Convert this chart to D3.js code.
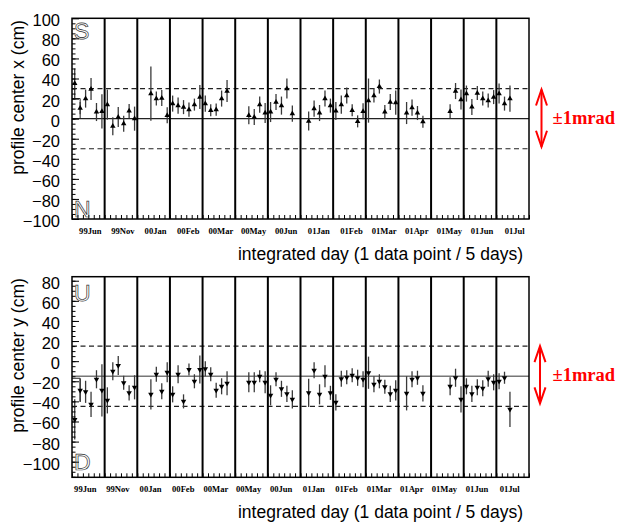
<!DOCTYPE html>
<html>
<head>
<meta charset="utf-8">
<script src="https://cdn.jsdelivr.net/npm/d3@7"></script>
<style>
	body { margin: 0; background: #fff; }
	svg { display: block; }
</style>
</head>
<body>
<svg id="chart" width="619" height="525"></svg>
<script>

// one block per month, 6 bins of 5 days each (null = no data)
const months = ["99Jun", "99Nov", "00Jan", "00Feb", "00Mar", "00May", "00Jun",
	"01Jan", "01Feb", "01Mar", "01Apr", "01May", "01Jun", "01Jul"];

const centerX = [
	[35, 10.5, 20, 29.5, 6.6, 7.3],
	[14, -7.6, 1.6, -5, 7.6, 0],
	[null, null, 25, 20, 20.5, 3.3],
	[15, 13, 11.5, 9, 14, 21.5],
	[15, 8.3, 9, 20, 27.5, null],
	[null, null, 3.3, 1.6, 14, 5.6],
	[6.6, 16.5, 13, 30, 5, null],
	[null, -2.4, 10, 5.6, 20, 13],
	[7.6, 14, 23, 8.3, -2.7, 7.3],
	[18, 23, 32, 6.6, 16.5, 16],
	[null, 5.6, 11, 5.6, -3, null],
	[null, null, null, 7.3, 27.5, 19],
	[25, 11.6, 25.5, 20, 18, 21.5],
	[25, 15, 20, null, null, null]
];
const centerXErr = [
	[15, 6, 9, 11, 9, 17],
	[15, 9, 10, 8, 7, 12],
	[null, null, 27, 7, 8, 8],
	[8, 8, 7, 7, 6, 12],
	[8, 6, 6, 8, 11, null],
	[null, null, 9, 8, 8, 10],
	[10, 8, 9, 10, 8, null],
	[null, 9.5, 8, 8, 8, 7],
	[9, 9, 8, 6, 6, 8],
	[22, 7, 7, 7, 8, 12],
	[null, 11, 8, 7, 6, null],
	[null, null, null, 7, 8, 10],
	[8, 8, 7, 7, 7, 7],
	[10, 7, 13, null, null, null]
];

const centerY = [
	[-58, -29, -30.5, -43, -18, -29],
	[-39, -10, -4.3, -21.5, -31.5, -26],
	[null, null, -33, -13, -30, -11],
	[-33, -13, -40, -8.3, -20, -8.3],
	[-7.6, -13, -29, -25, -22, null],
	[null, null, -21, -21, -15, -21],
	[-34, -18, -27.5, -32.5, -38, null],
	[null, -31.5, -9, -33, -15, -31.5],
	[-41, -17.5, -16, -14, -16.5, -18],
	[-11.5, -23, -20, -25.5, -32.5, -29],
	[null, -32, -18, -16.5, -32, null],
	[null, null, null, -25, -16.5, -38],
	[-25, -32.5, -26, -27, -17.5, -21],
	[-20, -16.5, -48, null, null, null]
];
const centerYErr = [
	[20, 11.5, 11, 12.5, 9, 26],
	[13, 9, 9.5, 7, 7.5, 12],
	[null, null, 15, 7.5, 8, 10],
	[8, 9, 7, 6, 7, 14],
	[7.5, 7, 7.5, 8, 12, null],
	[null, null, 10, 10, 6, 11],
	[10, 7, 8, 8, 9, null],
	[null, 14, 8, 10, 11, 7],
	[8, 8, 7, 7, 8, 8],
	[16, 8, 7, 7, 8, 10],
	[null, 17, 8, 7, 8, null],
	[null, null, null, 9, 9, 13],
	[8, 8, 8, 8, 8, 8],
	[8, 6, 17.5, null, null, null]
];

const ticksX = [-100, -80, -60, -40, -20, 0, 20, 40, 60, 80, 100];
const ticksY = [-100, -80, -60, -40, -20, 0, 20, 40, 60, 80];

// nominal line, +-1 mrad limits, arrow ends, first-bin box
const nominalX = [0], limitsX = [30, -30], arrowX = [29, -28], boxX = [0, 20];
const nominalY = [-15], limitsY = [15, -45], arrowY = [15, -42], boxY = [-40, -17];

const slotsPerMonth = 6;
const plotLeft = 72, plotRight = 529;

const svg = d3.select('#chart');
svg.append('rect').attr('width', 619).attr('height', 525).attr('fill', '#fff');

const x = d3.scaleLinear()
	.domain([0, months.length * slotsPerMonth])
	.range([plotLeft, plotRight]);

function drawPanel(p) {
	const y = d3.scaleLinear().domain(p.domain).range([p.bottom, p.top]);
	const g = svg.append('g');

	// reference lines
	g.selectAll('line.nominal').data(p.nominal).join('line')
		.attr('class', 'nominal')
		.attr('x1', plotLeft).attr('x2', plotRight)
		.attr('y1', d => y(d)).attr('y2', d => y(d))
		.attr('stroke', p.nominalColor).attr('stroke-width', 1.3);
	g.selectAll('line.limit').data(p.limits).join('line')
		.attr('class', 'limit')
		.attr('x1', plotLeft).attr('x2', plotRight)
		.attr('y1', d => y(d)).attr('y2', d => y(d))
		.attr('stroke', '#222').attr('stroke-width', 1.2)
		.attr('stroke-dasharray', '5,3.5');

	// month separators
	g.selectAll('line.sep').data(d3.range(1, months.length)).join('line')
		.attr('class', 'sep')
		.attr('x1', d => x(d * slotsPerMonth)).attr('x2', d => x(d * slotsPerMonth))
		.attr('y1', p.top).attr('y2', p.bottom)
		.attr('stroke', '#000').attr('stroke-width', 2);

	// first bin box
	g.append('path')
		.attr('d', 'M' + x(0) + ',' + y(p.box[1]) + 'H' + x(1.5) + 'V' + y(p.box[0]))
		.attr('fill', 'none').attr('stroke', '#222').attr('stroke-width', 1);

	// flatten monthly blocks into points
	const pts = [];
	p.values.forEach((row, m) => row.forEach((v, j) => {
		if (v !== null) pts.push({ slot: m * slotsPerMonth + j + 0.5, v: v, e: p.errors[m][j] });
	}));

	g.selectAll('line.err').data(pts).join('line')
		.attr('class', 'err')
		.attr('x1', d => x(d.slot)).attr('x2', d => x(d.slot))
		.attr('y1', d => y(d.v - d.e)).attr('y2', d => y(d.v + d.e))
		.attr('stroke', '#3a3a3a').attr('stroke-width', 1.3);

	const tri = d3.symbol(d3.symbolTriangle, 13);
	g.selectAll('path.pt').data(pts).join('path')
		.attr('class', 'pt')
		.attr('d', tri)
		.attr('transform', d => 'translate(' + x(d.slot) + ',' + y(d.v) + ')' + (p.down ? ' rotate(180)' : ''))
		.attr('fill', '#000');

	// slot ticks on the bottom edge
	const xAxis = g.append('g')
		.attr('transform', 'translate(0,' + p.bottom + ')')
		.call(d3.axisBottom(x).tickValues(d3.range(0, months.length * slotsPerMonth + 1))
			.tickSize(-4).tickSizeOuter(0).tickFormat(''));
	xAxis.select('.domain').remove();
	xAxis.selectAll('line').attr('stroke-width', 1);

	// y axis, ROOT style with inward ticks
	const minor = d3.range(Math.ceil(p.domain[0] / 5) * 5, p.domain[1], 5);
	const yMinor = g.append('g')
		.attr('transform', 'translate(' + plotLeft + ',0)')
		.call(d3.axisLeft(y).tickValues(minor).tickSize(-3.5).tickSizeOuter(0).tickFormat(''));
	yMinor.select('.domain').remove();

	const yAxis = g.append('g')
		.attr('transform', 'translate(' + plotLeft + ',0)')
		.call(d3.axisLeft(y).tickValues(p.ticks).tickSize(-7).tickSizeOuter(0).tickPadding(12));
	yAxis.select('.domain').remove();
	yAxis.selectAll('text')
		.attr('font-size', 16.5)
		.attr('font-family', 'Liberation Sans, Arial, sans-serif')
		.attr('dy', '0.45em')
		.attr('fill', '#000');

	// frame
	g.append('rect')
		.attr('x', plotLeft).attr('y', p.top)
		.attr('width', plotRight - plotLeft).attr('height', p.bottom - p.top)
		.attr('fill', 'none').attr('stroke', '#000').attr('stroke-width', 1.5);

	// month labels
	g.selectAll('text.month').data(months).join('text')
		.attr('class', 'month')
		.attr('x', (d, i) => x(i * slotsPerMonth + slotsPerMonth / 2) + p.labelShift)
		.attr('y', p.bottom + 15)
		.attr('text-anchor', 'middle')
		.attr('font-family', 'Liberation Serif, Times New Roman, serif')
		.attr('font-weight', 'bold')
		.attr('font-size', 8.6)
		.text(d => d);

	// hollow direction letters
	p.letters.forEach(l => {
		g.append('text')
			.attr('x', 74).attr('y', y(l.at))
			.attr('font-family', 'Liberation Sans, Arial, sans-serif')
			.attr('font-size', 23)
			.attr('fill', 'none').attr('stroke', '#333').attr('stroke-width', 0.7)
			.style('text-rendering', 'geometricPrecision')
			.text(l.text);
	});

	// titles
	g.append('text')
		.attr('transform', 'translate(24,' + p.titleYCenter + ') rotate(-90)')
		.attr('text-anchor', 'middle')
		.attr('font-family', 'Liberation Sans, Arial, sans-serif')
		.attr('font-size', 17.5)
		.text(p.yTitle);
	g.append('text')
		.attr('x', 523).attr('y', p.bottom + 40.5)
		.attr('text-anchor', 'end')
		.attr('font-family', 'Liberation Sans, Arial, sans-serif')
		.attr('font-size', 17.5)
		.text('integrated day (1 data point / 5 days)');

	// +-1 mrad arrow
	const ax = p.arrowPos, y0 = y(p.arrow[0]), y1 = y(p.arrow[1]);
	const red = '#ff0000';
	g.append('line')
		.attr('x1', ax).attr('x2', ax).attr('y1', y0).attr('y2', y1)
		.attr('stroke', red).attr('stroke-width', 2);
	g.append('path')
		.attr('d', 'M' + (ax - 5.5) + ',' + (y0 + 16) + 'L' + ax + ',' + y0 + 'L' + (ax + 5.5) + ',' + (y0 + 16)
			+ 'M' + (ax - 5.5) + ',' + (y1 - 16) + 'L' + ax + ',' + y1 + 'L' + (ax + 5.5) + ',' + (y1 - 16))
		.attr('fill', 'none').attr('stroke', red).attr('stroke-width', 2);
	g.append('text')
		.attr('x', 552.5).attr('y', (y0 + y1) / 2 + 6)
		.attr('font-family', 'Liberation Serif, Times New Roman, serif')
		.attr('font-weight', 'bold')
		.attr('font-size', 18.5)
		.attr('fill', red)
		.text('\u00b11mrad');
}

drawPanel({
	top: 18.3, bottom: 219, domain: [-100, 100], ticks: ticksX,
	values: centerX, errors: centerXErr, down: false,
	nominal: nominalX, nominalColor: '#222', limits: limitsX, box: boxX,
	arrow: arrowX, arrowPos: 541.5, labelShift: 2,
	letters: [{ text: 'S', at: 79.5 }, { text: 'N', at: -98.3 }],
	yTitle: 'profile center x (cm)', titleYCenter: 97.5
});

drawPanel({
	top: 276.7, bottom: 477.3, domain: [-115.5, 84], ticks: ticksY,
	values: centerY, errors: centerYErr, down: true,
	nominal: nominalY, nominalColor: '#777', limits: limitsY, box: boxY,
	arrow: arrowY, arrowPos: 540, labelShift: -3,
	letters: [{ text: 'U', at: 59.5 }, { text: 'D', at: -108.5 }],
	yTitle: 'profile center y (cm)', titleYCenter: 355.5
});

</script>
</body>
</html>
